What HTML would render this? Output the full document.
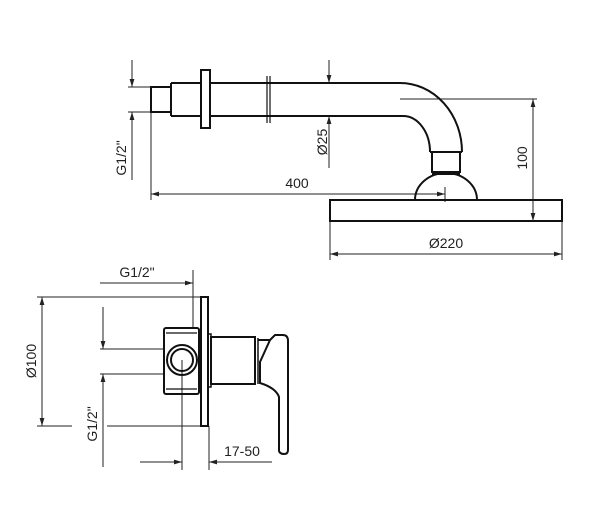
<!DOCTYPE html>
<html><head><style>html,body{margin:0;padding:0;background:#fff}</style></head><body>
<svg width="600" height="517" viewBox="0 0 600 517" xmlns="http://www.w3.org/2000/svg" font-family="Liberation Sans, sans-serif" font-size="14" fill="none">
<defs>
<marker id="a" viewBox="0 0 10 6" refX="10" refY="3" markerWidth="8" markerHeight="5" orient="auto-start-reverse" markerUnits="userSpaceOnUse"><path d="M0,0L10,3L0,6z" fill="#222"/></marker>
</defs>
<g stroke="#222" stroke-width="1">
<line x1="132" y1="60" x2="132" y2="87" marker-end="url(#a)"/>
<line x1="132" y1="180" x2="132" y2="112" marker-end="url(#a)"/>
<line x1="128" y1="87" x2="151" y2="87"/>
<line x1="128" y1="112" x2="151" y2="112"/>
<line x1="151" y1="112" x2="151" y2="200"/>
<line x1="329" y1="60" x2="329" y2="83" marker-end="url(#a)"/>
<line x1="329" y1="168" x2="329" y2="116" marker-end="url(#a)"/>
<line x1="151" y1="194" x2="445" y2="194" marker-start="url(#a)" marker-end="url(#a)"/>
<line x1="445" y1="187" x2="445" y2="202"/>
<line x1="400" y1="99" x2="537" y2="99"/>
<line x1="533" y1="99" x2="533" y2="221" marker-start="url(#a)" marker-end="url(#a)"/>
<line x1="330" y1="221" x2="330" y2="260"/>
<line x1="562" y1="221" x2="562" y2="260"/>
<line x1="330" y1="254" x2="562" y2="254" marker-start="url(#a)" marker-end="url(#a)"/>
</g>
<g stroke="#111" stroke-width="2">
<rect x="151" y="87" width="20" height="25"/>
<path d="M171,83H201M171,116H201M171,83V116"/>
<rect x="201" y="70" width="9" height="58"/>
<path d="M210,83H400A62,69 0 0 1 462,152M210,116H403A27,36 0 0 1 430,152"/>
<path d="M267,76V123M270,76V123" stroke-width="1.2"/>
<path d="M430,152H462M432,152V172H460V152M432,174H460"/>
<path d="M415,200A31,27 0 0 1 477,200"/>
<rect x="330" y="200" width="232" height="21"/>
</g>
<g fill="#222">
<text x="297" y="188" text-anchor="middle">400</text>
<text x="446" y="248" text-anchor="middle">Ø220</text>
<text transform="translate(327,142) rotate(-90)" text-anchor="middle">Ø25</text>
<text transform="translate(527,158) rotate(-90)" text-anchor="middle">100</text>
<text transform="translate(126,158) rotate(-90)" text-anchor="middle">G1/2"</text>
</g>
<g stroke="#222" stroke-width="1">
<line x1="100" y1="283" x2="193" y2="283" marker-end="url(#a)"/>
<line x1="193" y1="270" x2="193" y2="327"/>
<line x1="37" y1="297" x2="201" y2="297"/>
<line x1="37" y1="426" x2="72" y2="426"/>
<line x1="107" y1="426" x2="201" y2="426"/>
<line x1="42" y1="297" x2="42" y2="426" marker-start="url(#a)" marker-end="url(#a)"/>
<line x1="103" y1="307" x2="103" y2="349" marker-end="url(#a)"/>
<line x1="103" y1="467" x2="103" y2="374" marker-end="url(#a)"/>
<line x1="100" y1="349" x2="165" y2="349"/>
<line x1="100" y1="374" x2="165" y2="374"/>
<line x1="182" y1="360" x2="182" y2="470"/>
<line x1="209" y1="426" x2="209" y2="470"/>
<line x1="140" y1="462" x2="182" y2="462" marker-end="url(#a)"/>
<line x1="272" y1="462" x2="209" y2="462" marker-end="url(#a)"/>
</g>
<g stroke="#111" stroke-width="2">
<rect x="201" y="297" width="7" height="129"/>
<rect x="164" y="328" width="35" height="66" rx="2"/>
<path d="M166,333H197M166,389H197" stroke-width="1.2"/>
<circle cx="182" cy="360" r="15"/>
<circle cx="182" cy="360" r="11"/>
<path d="M208,334H211V387H208" stroke-width="1.5"/>
<rect x="211" y="337" width="44" height="47"/>
<path d="M255,338V384M258,338V384" stroke-width="1.5"/>
<path d="M258,340H270L260,362V383Q276,388 279,397V451Q280,454 284,454Q288,454 288,450V341Q288,335 283,335H275L270,340"/>
</g>
<g fill="#222">
<text x="137" y="277" text-anchor="middle">G1/2"</text>
<text x="242" y="456" text-anchor="middle">17-50</text>
<text transform="translate(36,361) rotate(-90)" text-anchor="middle">Ø100</text>
<text transform="translate(97,424) rotate(-90)" text-anchor="middle">G1/2"</text>
</g>
</svg>
</body></html>
